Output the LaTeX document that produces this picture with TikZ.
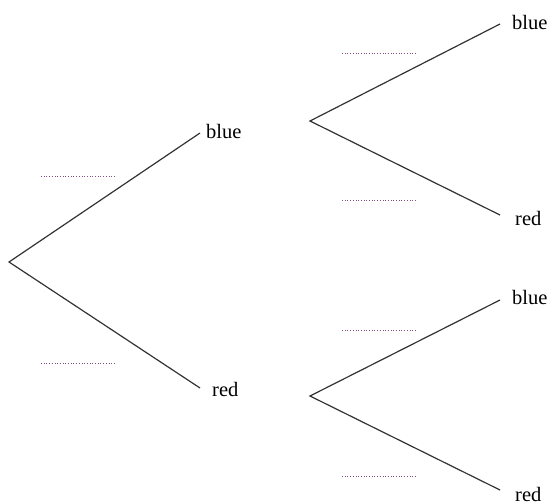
\documentclass[tikz,border=0pt]{standalone}
\usepackage{fontspec}
\setmainfont{Liberation Serif}
\begin{document}
\begin{tikzpicture}[x=1pt,y=-1pt,
  branch/.style={draw=black!80,line width=1.2pt},
  blank/.style={draw={rgb,255:red,130;green,80;blue,130},dotted,line width=0.7pt},
  lbl/.style={anchor=west,inner sep=0pt,font=\fontsize{20.5}{24}\selectfont}]
\useasboundingbox (0,0) rectangle (550,504);
% branch points
\coordinate (root) at (9,262);
\coordinate (b1) at (200,133);
\coordinate (r1) at (200,388);
\coordinate (f1) at (310,121);
\coordinate (f2) at (310,396);
\coordinate (bb) at (500,24);
\coordinate (br) at (500,215);
\coordinate (rb) at (500,300);
\coordinate (rr) at (500,490);
% labels
\node[lbl] (tb1) at (206,131) {blue};
\node[lbl] (tr1) at (212,389) {red};
\node[lbl] (tbb) at (512,22) {blue};
\node[lbl] (tbr) at (515,218) {red};
\node[lbl] (trb) at (512,297) {blue};
\node[lbl] (trr) at (515,494) {red};
% branches
\draw[branch] (b1) -- (root) -- (r1);
\draw[branch] (bb) -- (f1) -- (br);
\draw[branch] (rb) -- (f2) -- (rr);
% blanks
\coordinate (d1a) at (41,176); \coordinate (d1b) at (115,176);
\coordinate (d2a) at (41,363); \coordinate (d2b) at (115,363);
\coordinate (d3a) at (342,53); \coordinate (d3b) at (415,53);
\coordinate (d4a) at (342,200); \coordinate (d4b) at (415,200);
\coordinate (d5a) at (342,330); \coordinate (d5b) at (415,330);
\coordinate (d6a) at (342,476); \coordinate (d6b) at (415,476);
\draw[blank] (d1a) -- (d1b);
\draw[blank] (d2a) -- (d2b);
\draw[blank] (d3a) -- (d3b);
\draw[blank] (d4a) -- (d4b);
\draw[blank] (d5a) -- (d5b);
\draw[blank] (d6a) -- (d6b);
\end{tikzpicture}
\end{document}
